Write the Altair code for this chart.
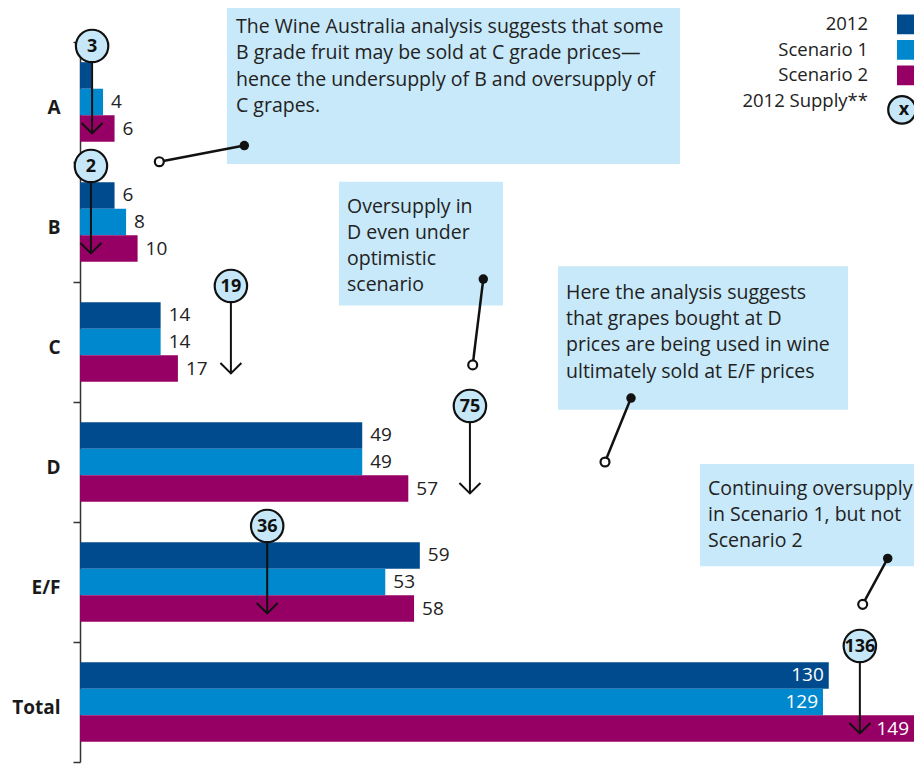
import altair as alt
import pandas as pd

# ---------------- data ----------------
categories = ["A", "B", "C", "D", "E/F", "Total"]
series = ["2012", "Scenario 1", "Scenario 2"]
values_2012 = [2, 6, 14, 49, 59, 130]
values_scenario1 = [4, 8, 14, 49, 53, 129]
values_scenario2 = [6, 10, 17, 57, 58, 149]
labels_2012 = ["", "6", "14", "49", "59", "130"]
labels_scenario1 = ["4", "8", "14", "49", "53", "129"]
labels_scenario2 = ["6", "10", "17", "57", "58", "149"]
supply_2012 = ["3", "2", "19", "75", "36", "136"]
legend_labels = ["2012", "Scenario 1", "Scenario 2", "2012 Supply**"]

notes = [
    ["The Wine Australia analysis suggests that some",
     "B grade fruit may be sold at C grade prices\u2014",
     "hence the undersupply of B and oversupply of",
     "C grapes."],
    ["Oversupply in", "D even under", "optimistic", "scenario"],
    ["Here the analysis suggests", "that grapes bought at D",
     "prices are being used in wine", "ultimately sold at E/F prices"],
    ["Continuing oversupply", "in Scenario 1, but not", "Scenario 2"],
]

# ---------------- styles / layout ----------------
series_colors = ["#004B8D", "#0088CE", "#960064"]
BOX_FILL = "#C8E9F9"
CIRCLE_FILL = "#C6E7F8"
INK = "#111111"
TEXT = "#222222"
FONT = "Open Sans"
W, H = 834, 720
X_MAX = 144.8
SY = H / 732.0


def PX(x):
    return x - 80


def PY(y):
    return (y - 44) * SY


# annotation layout (reference-page pixels, converted to plot pixels)
marker_x = [2.1, 1.9, 26.2, 67.7, 32.5, 135.4]   # x of supply markers (data units)
box_rects = [(227, 0, 680, 168), (339, 186, 503, 312),
             (558, 272, 848, 418), (700, 473, 930, 577)]
box_text = [(236, 29, 26.6), (347, 211.5, 26.4), (566, 299, 26.7), (708, 498.5, 26.5)]
connectors = [((244.3, 149.3), (159.3, 165.7)), ((483.3, 285), (472.7, 372.3)),
              ((631, 406), (605, 471)), ((887.7, 569), (862.7, 615.7))]
legend_rows = [26, 52, 78, 104]
LEG_TEXT_X, LEG_SW_X0, LEG_SW_X1 = 868, 897, 930
LEG_CIRCLE = (902, 113)

# ---------------- tables ----------------
rows = []
for s, vals, labs in zip(series, [values_2012, values_scenario1, values_scenario2],
                         [labels_2012, labels_scenario1, labels_scenario2]):
    for c, v, l in zip(categories, vals, labs):
        rows.append({"category": c, "series": s, "value": v, "label": l})
df = pd.DataFrame(rows)

sdf = pd.DataFrame({"category": categories, "supply": supply_2012, "mx": marker_x})

box_df = pd.DataFrame([{"x0": PX(a), "y0": PY(b), "x1": PX(c), "y1": PY(d)}
                       for a, b, c, d in box_rects])
text_rows = []
for lines, (tx, ty, lh) in zip(notes, box_text):
    for i, line in enumerate(lines):
        text_rows.append({"x": PX(tx), "y": PY(ty + i * lh), "t": line})
text_df = pd.DataFrame(text_rows)
conn_df = pd.DataFrame([{"x1": PX(a[0]), "y1": PY(a[1]), "x2": PX(b[0]), "y2": PY(b[1])}
                        for a, b in connectors])

leg_df = pd.DataFrame({"series": series,
                       "y0": [PY(v - 10) for v in legend_rows[:3]],
                       "y1": [PY(v + 10) for v in legend_rows[:3]]})
leg_text_df = pd.DataFrame({"t": legend_labels, "y": [PY(v) for v in legend_rows]})
leg_circle_df = pd.DataFrame({"t": ["x"], "y": [PY(LEG_CIRCLE[1])]})

# ---------------- encodings ----------------
y_scale = alt.Scale(domain=categories, paddingInner=0, paddingOuter=0)
y_axis = alt.Axis(title=None, orient="left", tickBand="extent", domainColor="#333333",
                  domainWidth=1.5, tickColor="#333333", tickWidth=1.5,
                  tickSize=7, labelFont=FONT, labelFontWeight="bold",
                  labelFontSize=19, labelColor="#1a1a1a", labelPadding=13,
                  labelOffset=5, grid=False)


def ycat(band=None):
    if band is None:
        return alt.Y("category:N", sort=categories, scale=y_scale, axis=y_axis)
    return alt.Y("category:N", sort=categories, scale=y_scale, axis=y_axis, bandPosition=band)


x_scale = alt.Scale(domain=[0, X_MAX], nice=False, zero=True)


def xval(f):
    return alt.X(f, type="quantitative", scale=x_scale, axis=None)


y_off = alt.YOffset("series:N", sort=series,
                    scale=alt.Scale(domain=series, paddingInner=0, paddingOuter=0.76))
color_enc = alt.Color("series:N", scale=alt.Scale(domain=series, range=series_colors), legend=None)


def px(f):
    return alt.X(f, type="quantitative", scale=None, axis=None)


def py(f):
    return alt.Y(f, type="quantitative", scale=None, axis=None)


# ---------------- layers ----------------
bars = alt.Chart(df).mark_bar(clip=True).encode(
    x=xval("value"), y=ycat(), yOffset=y_off, color=color_enc)

out_labels = alt.Chart(df).transform_filter("datum.category != 'Total'").mark_text(
    align="left", baseline="middle", dx=8, font=FONT, fontSize=19, color=TEXT
).encode(x=xval("value"), y=ycat(), yOffset=y_off, text="label:N")

in_labels = alt.Chart(df).transform_filter("datum.category == 'Total'").transform_calculate(
    xl=f"min(datum.value, {X_MAX})"
).mark_text(
    align="right", baseline="middle", dx=-5, font=FONT, fontSize=19, color="white"
).encode(x=xval("xl"), y=ycat(), yOffset=y_off, text="label:N")

arrow_line = alt.Chart(sdf).mark_rule(color=INK, strokeWidth=2).encode(
    x=xval("mx"), y=ycat(0.033), y2=alt.Y2("category:N", bandPosition=0.76))
arrow_head = alt.Chart(sdf).mark_point(
    shape="M-1,-0.5L0,0.5L1,-0.5", filled=False, color=INK, strokeWidth=2,
    size=441, yOffset=-5, opacity=1
).encode(x=xval("mx"), y=ycat(0.76))
circles = alt.Chart(sdf).mark_point(
    shape="circle", filled=True, fill=CIRCLE_FILL, stroke=INK, strokeWidth=2.2,
    size=1050, opacity=1
).encode(x=xval("mx"), y=ycat(0.033))
circle_text = alt.Chart(sdf).mark_text(
    font=FONT, fontWeight="bold", fontSize=18, color=INK, baseline="middle", align="center", dy=1
).encode(x=xval("mx"), y=ycat(0.033), text="supply:N")

boxes = alt.Chart(box_df).mark_rect(fill=BOX_FILL).encode(
    x=px("x0"), x2="x1", y=py("y0"), y2="y1")
box_texts = alt.Chart(text_df).mark_text(
    align="left", baseline="middle", font=FONT, fontSize=19.5, color=TEXT
).encode(x=px("x"), y=py("y"), text="t:N")

conn_lines = alt.Chart(conn_df).mark_rule(color=INK, strokeWidth=2.5).encode(
    x=px("x1"), x2="x2", y=py("y1"), y2="y2")
conn_dots = alt.Chart(conn_df).mark_point(
    shape="circle", filled=True, color=INK, size=90, opacity=1
).encode(x=px("x1"), y=py("y1"))
conn_open = alt.Chart(conn_df).mark_point(
    shape="circle", filled=True, fill="white", stroke=INK, strokeWidth=2.2, size=80, opacity=1
).encode(x=px("x2"), y=py("y2"))

leg_text = alt.Chart(leg_text_df).mark_text(
    align="right", baseline="middle", font=FONT, fontSize=18.5, color=TEXT
).encode(x=alt.value(PX(LEG_TEXT_X)), y=py("y"), text="t:N")
leg_swatch = alt.Chart(leg_df).mark_rect().encode(
    x=alt.value(PX(LEG_SW_X0)), x2=alt.value(PX(LEG_SW_X1)), y=py("y0"), y2="y1", color=color_enc)
leg_circle = alt.Chart(leg_circle_df).mark_point(
    shape="circle", filled=True, fill=CIRCLE_FILL, stroke=INK, strokeWidth=2.2,
    size=760, opacity=1
).encode(x=alt.value(PX(LEG_CIRCLE[0])), y=py("y"))
leg_circle_text = alt.Chart(leg_circle_df).mark_text(
    font=FONT, fontWeight="bold", fontSize=18, color=INK, baseline="middle", align="center"
).encode(x=alt.value(PX(LEG_CIRCLE[0]) + 2), y=py("y"), text="t:N")

chart = alt.layer(
    bars, out_labels, in_labels,
    arrow_line, arrow_head, circles, circle_text,
    boxes, box_texts, conn_lines, conn_dots, conn_open,
    leg_text, leg_swatch, leg_circle, leg_circle_text,
).properties(
    width=W, height=H,
    autosize=alt.AutoSizeParams(type="none"),
    padding={"left": 72, "top": 34, "right": 0, "bottom": 2},
).configure_view(stroke=None)

chart.save("out.html", embed_options={"renderer": "svg", "actions": False})
